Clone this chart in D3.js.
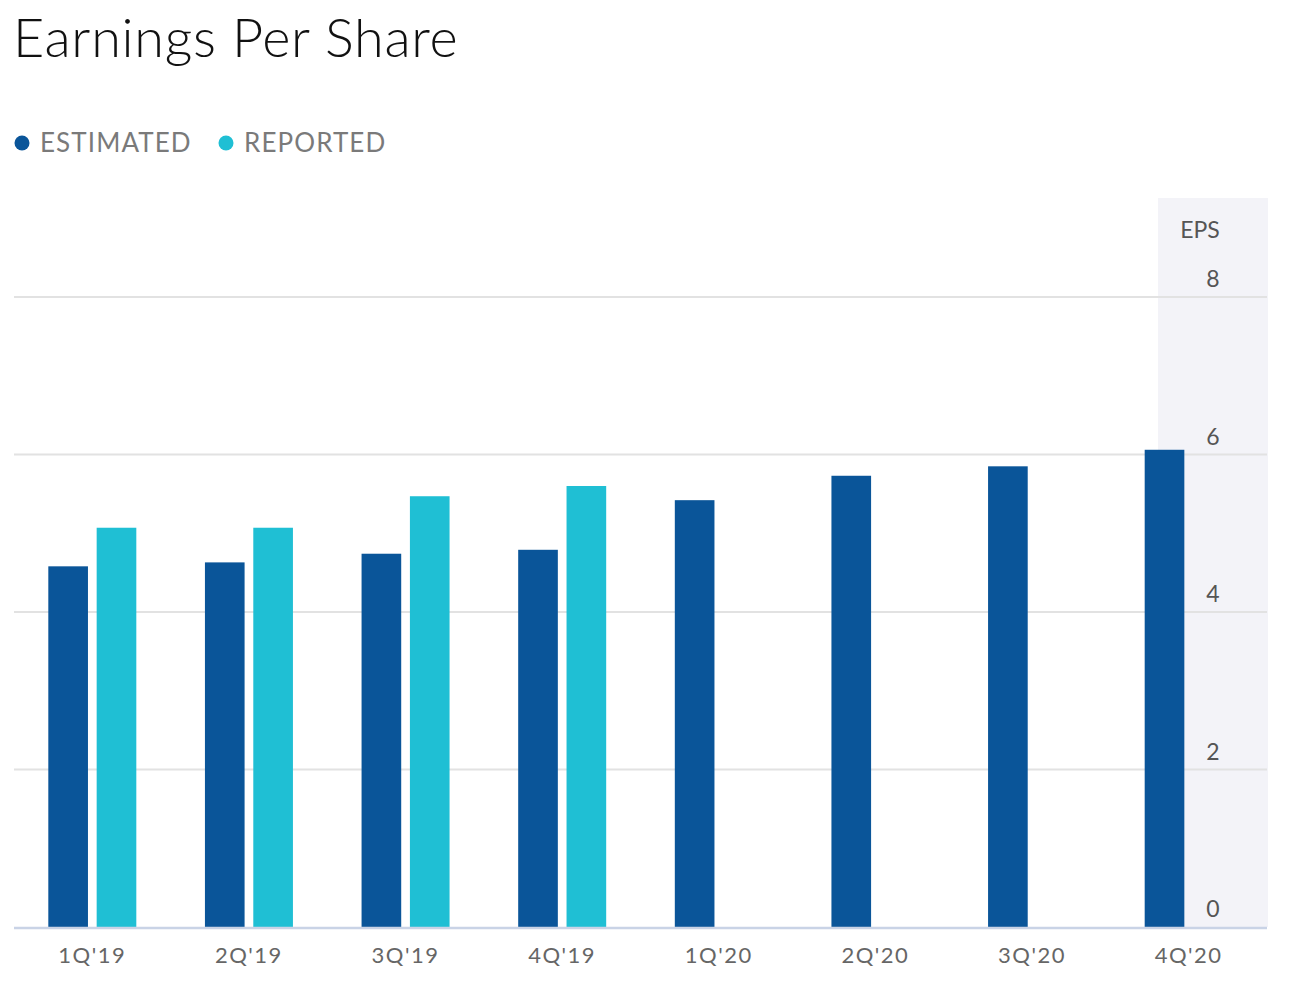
<!DOCTYPE html>
<html><head><meta charset="utf-8">
<script src="https://cdn.jsdelivr.net/npm/d3@7"></script>
<style>body{margin:0;background:#fff;} svg{display:block;}</style>
</head><body>
<script>
const categories = ["1Q'19","2Q'19","3Q'19","4Q'19","1Q'20","2Q'20","3Q'20","4Q'20"];
const estimated = [4.58, 4.63, 4.74, 4.79, 5.42, 5.73, 5.85, 6.06];
const reported = [5.07, 5.07, 5.47, 5.60, null, null, null, null];
const yTicks = [0, 2, 4, 6, 8];
const seriesNames = ["ESTIMATED", "REPORTED"];
const colors = ["#0a5599", "#1fbfd4"];

const W = 1294, H = 988;
const svg = d3.select("body").append("svg").attr("width", W).attr("height", H);
const font = "'Source Sans Pro', Lato, 'Open Sans', sans-serif";

svg.append("text").attr("x", 13).attr("y", 57).text("Earnings Per Share")
  .attr("font-family", "Lato").attr("font-weight", 300).attr("font-size", 54)
  .attr("letter-spacing", 0.7).attr("fill", "#111");

// legend
seriesNames.forEach((n, i) => {
  svg.append("circle").attr("cx", [22, 226][i]).attr("cy", 143).attr("r", 7.5).attr("fill", colors[i]);
  svg.append("text").attr("x", [40, 244][i]).attr("y", 152).text(n)
    .attr("font-family", font).attr("font-size", 26).attr("fill", "#7a7a7a").attr("letter-spacing", 1.1);
});

const x0 = 14, x1 = 1267, yTop = 297, yBase = 927;
const x = d3.scaleBand().domain(categories).range([x0, x1]);
const y = d3.scaleLinear().domain([0, 8]).range([yBase, yTop]);

// right panel
svg.append("rect").attr("x", 1158).attr("y", 198).attr("width", 110).attr("height", yBase - 198).attr("fill", "#f3f3f8");

// gridlines
svg.append("g").selectAll("line").data(yTicks.filter(d => d > 0)).join("line")
  .attr("x1", x0).attr("x2", x1).attr("y1", d => y(d)).attr("y2", d => y(d))
  .attr("stroke", "#e2e2e2").attr("stroke-width", 2);

// bars
const sub = d3.scaleBand().domain([0, 1]).range([-44, 44]).paddingInner(0.18);
const g = svg.append("g");
categories.forEach((c, i) => {
  const cx = x(c) + x.bandwidth() / 2;
  [estimated[i], reported[i]].forEach((v, j) => {
    if (v == null) return;
    g.append("rect").attr("x", cx + sub(j)).attr("width", sub.bandwidth())
      .attr("y", y(v)).attr("height", y(0) - y(v)).attr("fill", colors[j]);
  });
});

// baseline
svg.append("line").attr("x1", x0).attr("x2", x1).attr("y1", yBase + 1).attr("y2", yBase + 1)
  .attr("stroke", "#c9d3e6").attr("stroke-width", 2.5);

// y tick labels
svg.append("g").selectAll("text").data(yTicks).join("text")
  .attr("x", 1213).attr("y", d => y(d) - 10).attr("text-anchor", "middle")
  .text(d => d).attr("font-family", font).attr("font-size", 23).attr("fill", "#555");
svg.append("text").attr("x", 1200).attr("y", 238).attr("text-anchor", "middle").text("EPS")
  .attr("font-family", font).attr("font-size", 23).attr("fill", "#555");

// x labels
svg.append("g").selectAll("text").data(categories).join("text")
  .attr("x", d => x(d) + x.bandwidth() / 2).attr("y", 963).attr("text-anchor", "middle")
  .text(d => d).attr("font-family", font).attr("font-size", 22).attr("fill", "#666").attr("letter-spacing", 1.5);
</script>
</body></html>
